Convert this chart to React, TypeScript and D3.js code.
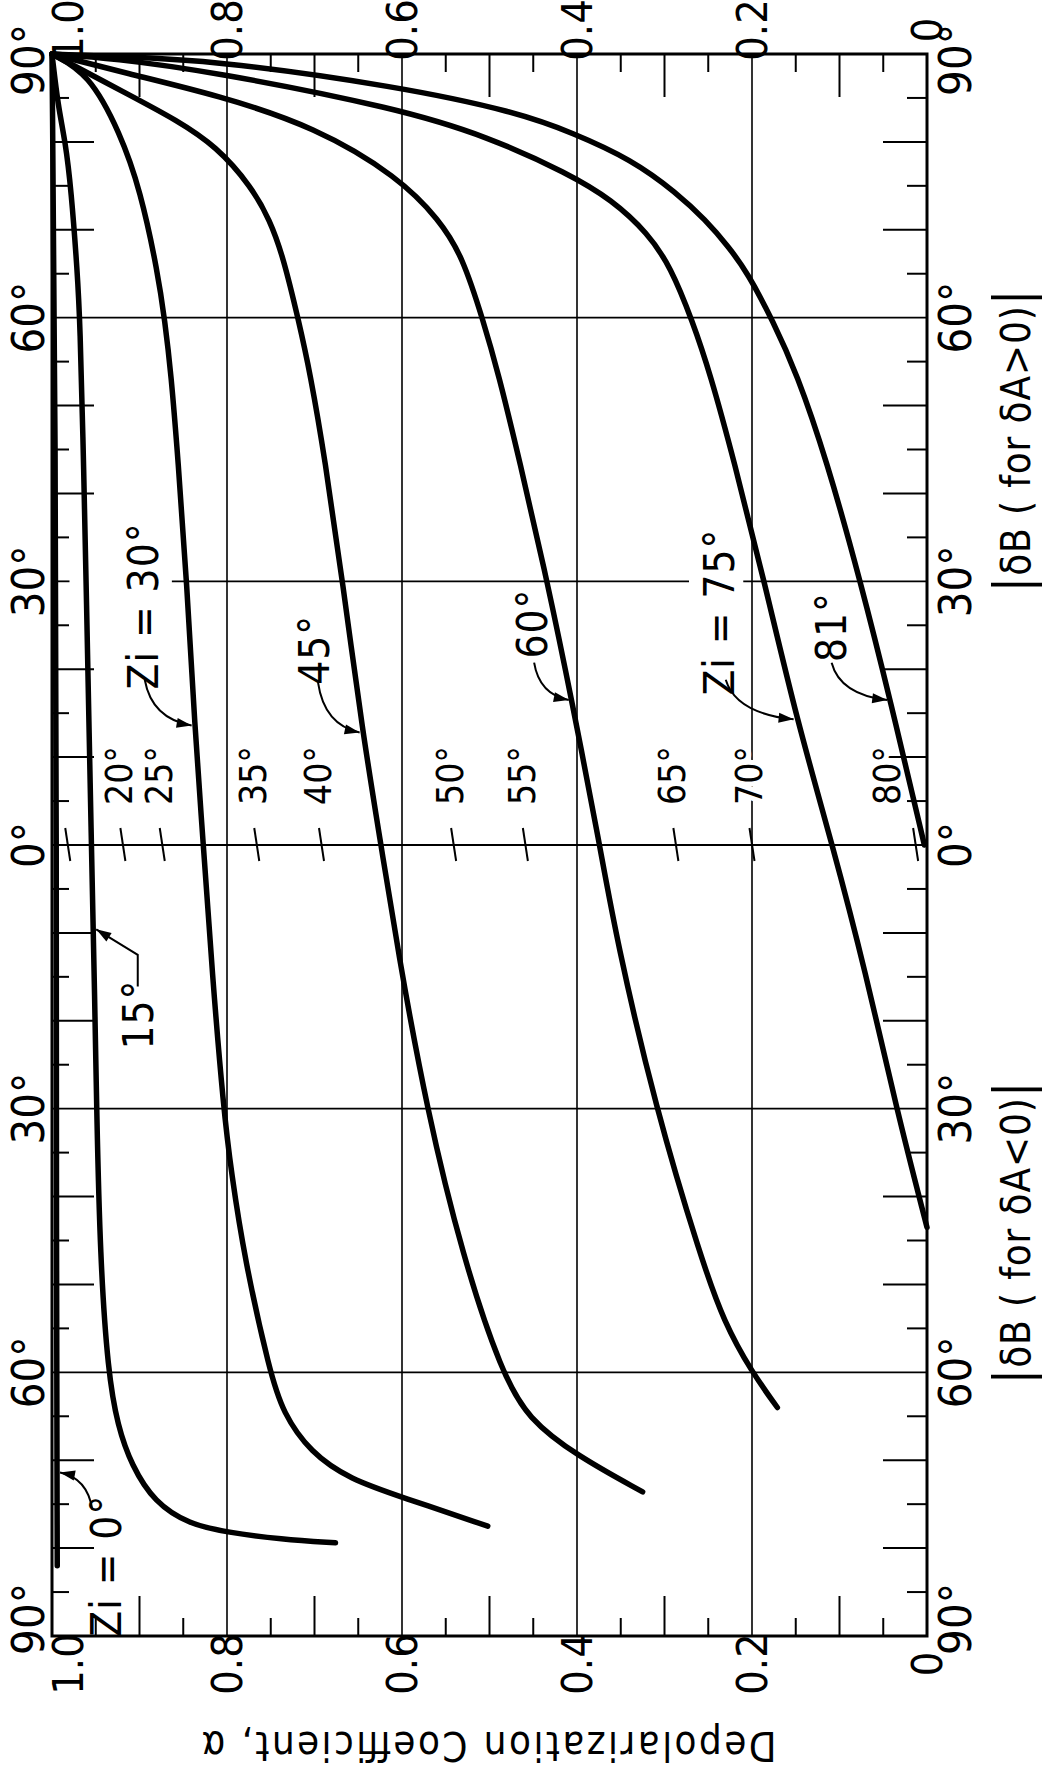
import React from "react";
import * as d3 from "d3";

const W = 1042;
const H = 1772;
const FONT = "'Liberation Sans Narrow', 'DejaVu Sans Condensed', 'Liberation Sans', sans-serif";

// depolarization coefficient axis (left = 1.0, right = 0)
const alphaGridValues = [0.8, 0.6, 0.4, 0.2];
const alphaTickValues = [1.0, 0.8, 0.6, 0.4, 0.2, 0];
const alphaTickLabels = ["1.0", "0.8", "0.6", "0.4", "0.2", "0"];

// |δB| axis, signed: + for δA>0 (upper half), - for δA<0 (lower half)
const angleGridValues = [60, 30, 0, -30, -60];
const angleTickValues = [90, 60, 30, 0, -30, -60, -90];
const angleTickLabels = ["90°", "60°", "30°", "0°", "30°", "60°", "90°"];

// curves as [δB, α]
const curveZi0 = [[90, 1.0], [45, 0.996], [0, 0.995], [-45, 0.995], [-82, 0.994]];
const curveZi15 = [[90, 1.0], [84, 0.993], [80.2, 0.985], [74.5, 0.978], [65.1, 0.971], [59.6, 0.968], [43.9, 0.964], [30, 0.961], [0, 0.955], [-18.3, 0.951], [-30, 0.949], [-47, 0.945], [-60, 0.936], [-66.1, 0.925], [-70.6, 0.909], [-74.8, 0.883], [-77.3, 0.843], [-78.2, 0.8], [-79.0, 0.738], [-79.4, 0.676]];
const curveZi30 = [[90, 1.0], [87.8, 0.958], [81.0, 0.922], [74.5, 0.899], [65.1, 0.879], [59.6, 0.871], [53.7, 0.864], [43.9, 0.856], [30, 0.846], [13.6, 0.837], [0, 0.827], [-14.5, 0.817], [-30, 0.804], [-37.3, 0.795], [-47.1, 0.78], [-60, 0.751], [-64.6, 0.736], [-69.1, 0.705], [-72.2, 0.659], [-74.2, 0.6], [-77.5, 0.502]];
const curveZi45 = [[90, 1.0], [85.2, 0.909], [82.5, 0.858], [79.5, 0.812], [74.9, 0.772], [71.1, 0.751], [67.0, 0.736], [59.6, 0.718], [53.7, 0.705], [43.9, 0.688], [30, 0.668], [12.8, 0.645], [0, 0.624], [-11.9, 0.605], [-30, 0.572], [-47.1, 0.53], [-60, 0.486], [-65.3, 0.456], [-69.5, 0.4], [-73.6, 0.325]];
const curveZi60 = [[90, 1.0], [87.8, 0.915], [85.3, 0.81], [81.7, 0.699], [76.0, 0.604], [71.1, 0.557], [67.0, 0.531], [59.6, 0.507], [53.7, 0.49], [43.9, 0.466], [30, 0.434], [16.5, 0.406], [0, 0.374], [-10.75, 0.355], [-30, 0.31], [-47.1, 0.258], [-54.3, 0.232], [-60, 0.2], [-64, 0.171]];
const curveZi75 = [[90, 1.0], [89.5, 0.93], [88.0, 0.817], [83.8, 0.604], [80.6, 0.502], [76.4, 0.41], [73.4, 0.36], [69.6, 0.319], [65.8, 0.293], [59.6, 0.268], [53.7, 0.248], [43.9, 0.221], [30, 0.186], [14.3, 0.149], [0, 0.108], [-14.5, 0.07], [-30, 0.035], [-43.5, 0.0]];
const curveZi81 = [[90, 1.0], [89.7, 0.93], [89.3, 0.817], [86.3, 0.604], [83.4, 0.469], [81.0, 0.404], [78.0, 0.338], [74.2, 0.286], [71.1, 0.253], [68.1, 0.227], [65.1, 0.205], [59.6, 0.176], [53.7, 0.149], [43.9, 0.115], [30, 0.076], [16.5, 0.042], [0, 0.003]];
const curves = [curveZi0, curveZi15, curveZi30, curveZi45, curveZi60, curveZi75, curveZi81];

// curve labels
const curveLabelTexts = ["Zi = 0°", "15°", "Zi = 30°", "45°", "60°", "Zi = 75°", "81°"];
const curveLabelAt = [[0.938, -82], [0.901, -19.3], [0.896, 27.2], [0.7, 22.2], [0.451, 25.2], [0.237, 26.5], [0.109, 24.8]];
const arrowFrom = [[0.954, -75.6], [0.902, -16.1], [0.894, 18.8], [0.696, 18.5], [0.449, 20.75], [0.23, 18.8], [0.109, 20.75]];
const arrowElbow = [null, [0.902, -12.5], null, null, null, null, null];
const arrowTipAngle = [-71.4, -9.6, 13.6, 12.8, 16.5, 14.3, 16.5];

// Z_i marks along the δB = 0 line
const ziMarkAlphas = [0.982, 0.919, 0.874, 0.766, 0.692, 0.541, 0.459, 0.287, 0.2, 0.013];
const ziMarkLabels = ["", "20°", "25°", "35°", "40°", "50°", "55°", "65°", "70°", "80°"];

// the 30° line is left open around two labels (α ranges)
const gapsAt30 = [[0.98, 0.863], [0.272, 0.21]];

const App = () => {
  const x = d3.scaleLinear().domain([1, 0]).range([52, 927]);
  const y = d3.scaleLinear().domain([90, -90]).range([54, 1636]);
  const line = d3
    .line<number[]>()
    .x((d) => x(d[1]))
    .y((d) => y(d[0]))
    .curve(d3.curveBasis);

  const alphaTicks = d3.range(1, 20).filter((i) => i % 4 !== 0).map((i) => ({ v: i / 20, long: i % 2 === 0 }));
  const angleTicks = d3.range(-17, 18).filter((i) => i % 6 !== 0).map((i) => ({ v: i * 5, long: i % 2 === 0 }));

  const hSegments = (t: number) => {
    const gaps = t === 30 ? gapsAt30 : [];
    const segs: number[][] = [];
    let start = 1;
    gaps.forEach(([a, b]) => {
      segs.push([start, a]);
      start = b;
    });
    segs.push([start, 0]);
    return segs;
  };

  const arrows = curves.map((c, i) => {
    const atAngle = d3.scaleLinear().domain(c.map((d) => d[0])).range(c.map((d) => d[1]));
    const tipT = arrowTipAngle[i];
    const sx = x(arrowFrom[i][0]);
    const sy = y(arrowFrom[i][1]);
    const cx = x(atAngle(tipT));
    const side = sx < cx ? -3 : 3;
    const tx = cx + side;
    const ty = y(tipT);
    let path: string;
    let px: number;
    let py: number;
    const elbow = arrowElbow[i];
    if (elbow) {
      const ex = x(elbow[0]);
      const ey = y(elbow[1]);
      path = `M${sx},${sy}L${ex},${ey}L${tx},${ty}`;
      px = ex;
      py = ey;
    } else {
      px = sx + 0.15 * (tx - sx);
      py = sy + 0.85 * (ty - sy);
      path = `M${sx},${sy}Q${px},${py} ${tx},${ty}`;
    }
    const len = Math.hypot(tx - px, ty - py);
    const ux = (tx - px) / len;
    const uy = (ty - py) / len;
    const bx = tx - ux * 15;
    const by = ty - uy * 15;
    const head = `${tx},${ty} ${bx - uy * 5},${by + ux * 5} ${bx + uy * 5},${by - ux * 5}`;
    return { path, head };
  });

  const rot = (px: number, py: number, a = -90) => `translate(${px},${py}) rotate(${a})`;

  return (
    <svg width={W} height={H} style={{ position: "absolute", left: 0, top: 0, background: "#fff" }} fontFamily={FONT}>
      <rect x={0} y={0} width={W} height={H} fill="#fff" />

      {/* grid */}
      {alphaGridValues.map((v) => (
        <line key={"gv" + v} x1={x(v)} x2={x(v)} y1={y(90)} y2={y(-90)} stroke="#000" strokeWidth={1.6} />
      ))}
      {angleGridValues.map((t) =>
        hSegments(t).map(([a, b], j) => (
          <line key={"gh" + t + "_" + j} x1={x(a)} x2={x(b)} y1={y(t)} y2={y(t)} stroke="#000" strokeWidth={1.8} />
        ))
      )}

      {/* ticks */}
      {alphaTicks.map((d) => (
        <g key={"at" + d.v} stroke="#000" strokeWidth={2}>
          <line x1={x(d.v)} x2={x(d.v)} y1={y(90)} y2={y(90) + (d.long ? 43 : 18)} />
          <line x1={x(d.v)} x2={x(d.v)} y1={y(-90)} y2={y(-90) - (d.long ? 40 : 18)} />
        </g>
      ))}
      {angleTicks.map((d) => (
        <g key={"gt" + d.v} stroke="#000" strokeWidth={2}>
          <line x1={x(1)} x2={x(1) + (d.long ? 42 : 17)} y1={y(d.v)} y2={y(d.v)} />
          <line x1={x(0)} x2={x(0) - (d.long ? 44 : 20)} y1={y(d.v)} y2={y(d.v)} />
        </g>
      ))}

      {/* frame */}
      <rect x={x(1)} y={y(90)} width={x(0) - x(1)} height={y(-90) - y(90)} fill="none" stroke="#000" strokeWidth={3} />

      {/* tick labels */}
      {alphaTickValues.map((v, i) => (
        <g key={"al" + v} fontSize={43}>
          <text transform={rot(x(v) + (v === 1 ? 16 : 0), 30)} textAnchor="middle" dominantBaseline="central">
            {alphaTickLabels[i]}
          </text>
          <text transform={rot(x(v) + (v === 1 ? 16 : 0), 1664)} textAnchor="middle" dominantBaseline="central">
            {alphaTickLabels[i]}
          </text>
        </g>
      ))}
      {angleTickValues.map((t, i) => {
        const shift = t === 90 ? 6 : t === -90 ? -17 : 0;
        return (
          <g key={"tl" + t} fontSize={45}>
            <text transform={rot(28, y(t) + shift)} textAnchor="middle" dominantBaseline="central">
              {angleTickLabels[i]}
            </text>
            <text transform={rot(955, y(t) + shift)} textAnchor="middle" dominantBaseline="central">
              {angleTickLabels[i]}
            </text>
          </g>
        );
      })}

      {/* Z_i marks on the 0° line */}
      {ziMarkAlphas.map((a, i) => (
        <g key={"zm" + i}>
          <line x1={x(a) - 2.5} x2={x(a) + 2.5} y1={y(0) - 17} y2={y(0) + 16} stroke="#000" strokeWidth={2} />
          {ziMarkLabels[i] && (
            <text
              transform={rot(x(a) - (i === 9 ? 28 : 3), y(0) - 40)}
              fontSize={37}
              textAnchor="start"
              dominantBaseline="central"
              stroke="#fff"
              strokeWidth={10}
              paintOrder="stroke"
            >
              {ziMarkLabels[i]}
            </text>
          )}
        </g>
      ))}

      {/* curves */}
      {curves.map((c, i) => (
        <path key={"c" + i} d={line(c) || ""} fill="none" stroke="#000" strokeWidth={5.5} strokeLinecap="round" strokeLinejoin="round" />
      ))}

      {/* curve labels and leaders */}
      {curveLabelTexts.map((s, i) => (
        <g key={"cl" + i}>
          <text
            transform={rot(x(curveLabelAt[i][0]), y(curveLabelAt[i][1]))}
            fontSize={42}
            letterSpacing={1}
            textAnchor="middle"
            dominantBaseline="central"
          >
            {s}
          </text>
          <path d={arrows[i].path} fill="none" stroke="#000" strokeWidth={2} />
          <polygon points={arrows[i].head} fill="#000" />
        </g>
      ))}

      {/* axis titles */}
      <text transform={rot(1030, 441)} fontSize={40} textAnchor="middle" textLength={303} lengthAdjust="spacing">
        <tspan fontSize={52}>|</tspan>δB ( for δA&gt;0)<tspan fontSize={52}>|</tspan>
      </text>
      <text transform={rot(1030, 1233)} fontSize={40} textAnchor="middle" textLength={303} lengthAdjust="spacing">
        <tspan fontSize={52}>|</tspan>δB ( for δA&lt;0)<tspan fontSize={52}>|</tspan>
      </text>
      <text transform={rot(489, 1732, 180)} fontSize={40} textAnchor="middle" textLength={575} lengthAdjust="spacing">
        Depolarization Coefficient, α
      </text>
    </svg>
  );
};

export default App;
